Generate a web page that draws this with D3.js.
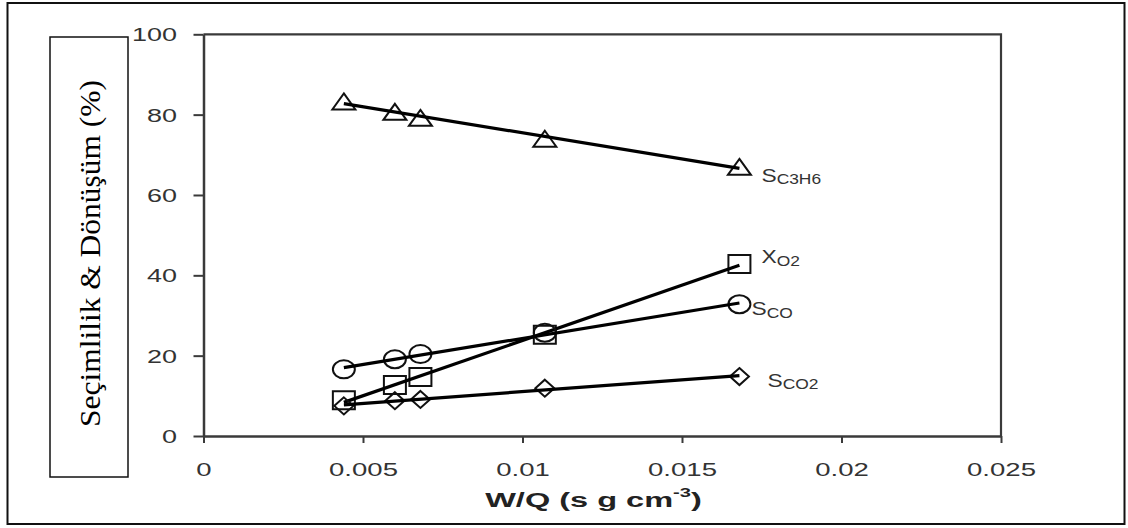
<!DOCTYPE html>
<html><head><meta charset="utf-8">
<script src="https://cdn.jsdelivr.net/npm/d3@7"></script>
<style>body{margin:0;background:#fff}svg{display:block}</style>
</head><body>
<svg id="chart" width="1128" height="528"></svg>
<script>
// ---- data ----
const wq = [0.0044, 0.006, 0.0068, 0.0107, 0.0168];
const sC3H6 = [83.3, 80.7, 79.2, 74.0, 67.0];
const xO2 = [8.9, 12.7, 14.7, 25.2, 42.8];
const sCO = [16.6, 19.1, 20.4, 25.7, 32.8];
const sCO2 = [7.5, 8.8, 9.1, 11.9, 14.8];
const xTicks = [0, 0.005, 0.01, 0.015, 0.02, 0.025];
const xTickLabels = ["0", "0.005", "0.01", "0.015", "0.02", "0.025"];
const yTicks = [0, 20, 40, 60, 80, 100];
const yTickLabels = ["0", "20", "40", "60", "80", "100"];
const seriesMain = ["S", "X", "S", "S"];
const seriesSub = ["C3H6", "O2", "CO", "CO2"];
const yTitle = "Seçimlilik & Dönüşüm (%)";
const xTitleMain = "W/Q (s g cm";
const xTitleSup = "-3";
const xTitleEnd = ")";

// ---- layout ----
const svg = d3.select("#chart");
const x = d3.scaleLinear().domain([0, 0.025]).range([203.5, 1001]);
const y = d3.scaleLinear().domain([0, 100]).range([436, 34.3]);
const axisCol = "#3a3a3a", textCol = "#333";

svg.append("rect").attr("width", 1128).attr("height", 528).attr("fill", "#fff");
// outer frame
svg.append("rect").attr("x", 7.5).attr("y", 3).attr("width", 1117).attr("height", 521)
  .attr("fill", "none").attr("stroke", "#111").attr("stroke-width", 2);

// plot frame top/right
svg.append("path")
  .attr("d", `M${x(0)},${y(100)}H${x(0.025)}V${y(0)}`)
  .attr("fill", "none").attr("stroke", axisCol).attr("stroke-width", 2.2);

// y axis
const yAxis = svg.append("g").attr("transform", `translate(${x(0)},0)`)
  .call(d3.axisLeft(y).tickValues(yTicks).tickSize(10).tickSizeOuter(0)
    .tickFormat((d, i) => yTickLabels[i]));
yAxis.select(".domain").attr("stroke", axisCol).attr("stroke-width", 2.5);
yAxis.selectAll(".tick line").attr("stroke", axisCol).attr("stroke-width", 2);
yAxis.selectAll(".tick text")
  .attr("x", 0).attr("dy", "0.35em")
  .attr("transform", "translate(-26.5,0) scale(1.42,1)")
  .attr("font-family", "Liberation Sans, Arial, sans-serif").attr("font-size", 19)
  .attr("fill", textCol);

// x axis
const xAxis = svg.append("g").attr("transform", `translate(0,${y(0)})`)
  .call(d3.axisBottom(x).tickValues(xTicks).tickSize(7).tickSizeOuter(0)
    .tickFormat((d, i) => xTickLabels[i]));
xAxis.select(".domain").attr("stroke", axisCol).attr("stroke-width", 2.5);
xAxis.selectAll(".tick line").attr("stroke", axisCol).attr("stroke-width", 2);
xAxis.selectAll(".tick text")
  .attr("y", 0).attr("dy", 0)
  .attr("transform", "translate(0,40) scale(1.45,1)")
  .attr("font-family", "Liberation Sans, Arial, sans-serif").attr("font-size", 19)
  .attr("fill", textCol);

// x title
const xt = svg.append("text")
  .attr("transform", "translate(593.5,507) scale(1.55,1)")
  .attr("text-anchor", "middle")
  .attr("font-family", "Liberation Sans, Arial, sans-serif").attr("font-weight", "bold")
  .attr("font-size", 21).attr("fill", "#222");
xt.append("tspan").text(xTitleMain);
xt.append("tspan").attr("font-size", 13).attr("dy", -10).text(xTitleSup);
xt.append("tspan").attr("dy", 10).text(xTitleEnd);

// y title box
svg.append("rect").attr("x", 50).attr("y", 37).attr("width", 78).attr("height", 440)
  .attr("fill", "#fff").attr("stroke", "#111").attr("stroke-width", 1.5);
svg.append("text")
  .attr("transform", "translate(100,253.5) rotate(-90)")
  .attr("text-anchor", "middle")
  .attr("font-family", "Liberation Serif, Times New Roman, serif")
  .attr("font-size", 30).attr("textLength", 347).attr("lengthAdjust", "spacingAndGlyphs")
  .attr("fill", "#000").text(yTitle);

// ---- series ----
function fit(xs, ys) {
  const mx = d3.mean(xs), my = d3.mean(ys);
  let sxy = 0, sxx = 0;
  xs.forEach((v, i) => { sxy += (v - mx) * (ys[i] - my); sxx += (v - mx) * (v - mx); });
  const b = sxy / sxx, a = my - b * mx;
  return v => a + b * v;
}
const shapes = {
  tri: (w, h) => `M0,${-h/2}L${w/2},${h/2}L${-w/2},${h/2}Z`,
  sq: (w, h) => `M${-w/2},${-h/2}H${w/2}V${h/2}H${-w/2}Z`,
  ell: (w, h) => `M${-w/2},0A${w/2},${h/2} 0 1,0 ${w/2},0A${w/2},${h/2} 0 1,0 ${-w/2},0Z`,
  dia: (w, h) => `M0,${-h/2}L${w/2},0L0,${h/2}L${-w/2},0Z`
};
const series = [
  { vals: sC3H6, shape: "tri", w: 23, h: 16, lx: 22, ly: 15 },
  { vals: xO2, shape: "sq", w: 22, h: 18, lx: 22, ly: -1 },
  { vals: sCO, shape: "ell", w: 22, h: 18, lx: 12, ly: 11 },
  { vals: sCO2, shape: "dia", w: 19, h: 17, lx: 28, ly: 10 }
];
const line = d3.line().x(d => x(d[0])).y(d => y(d[1]));
const x0 = d3.min(wq), x1 = d3.max(wq);
series.forEach((s, si) => {
  const f = fit(wq, s.vals);
  const g = svg.append("g");
  g.selectAll("path.m").data(wq).join("path").attr("class", "m")
    .attr("transform", (d, i) => `translate(${x(d)},${y(s.vals[i])})`)
    .attr("d", shapes[s.shape](s.w, s.h))
    .attr("fill", "none").attr("stroke", "#111").attr("stroke-width", 2);
  g.append("path").datum([[x0, f(x0)], [x1, f(x1)]])
    .attr("d", line).attr("fill", "none").attr("stroke", "#000").attr("stroke-width", 3.2);
  const lx = x(wq[wq.length - 1]) + s.lx, ly = y(s.vals[s.vals.length - 1]) + s.ly;
  const t = svg.append("text")
    .attr("transform", `translate(${lx},${ly}) scale(1.2,1)`)
    .attr("font-family", "Liberation Sans, Arial, sans-serif").attr("fill", textCol);
  t.append("tspan").attr("font-size", 19).text(seriesMain[si]);
  t.append("tspan").attr("font-size", 14.5).attr("dy", 2.5).text(seriesSub[si]);
});
</script>
</body></html>
